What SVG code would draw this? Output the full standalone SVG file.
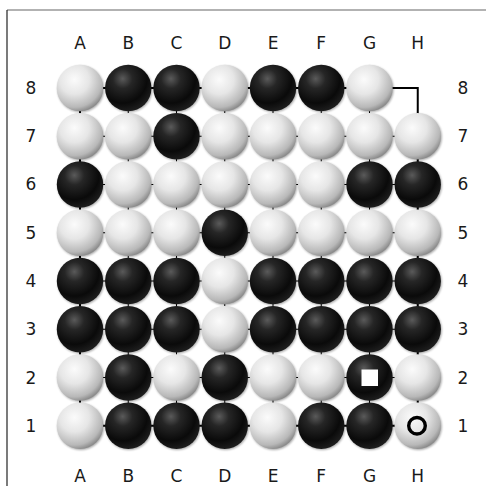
<svg xmlns="http://www.w3.org/2000/svg" xmlns:xlink="http://www.w3.org/1999/xlink" width="486" height="486" viewBox="0 0 486 486">
<defs>
<style>
.lbl{font-family:"DejaVu Sans","Liberation Sans",sans-serif;font-size:17px;fill:#1a1a1a;text-anchor:middle}
.grid{stroke:#000;stroke-width:1;fill:none}
.edge{stroke:#000;stroke-width:2;fill:none}
</style>
<radialGradient id="gw" cx="0.38" cy="0.32" r="0.7">
<stop offset="0" stop-color="#fbfbfb"/>
<stop offset="0.45" stop-color="#e6e6e6"/>
<stop offset="0.85" stop-color="#b8b8b8"/>
<stop offset="1" stop-color="#8c8c8c"/>
</radialGradient>
<radialGradient id="gb" cx="0.38" cy="0.3" r="0.7">
<stop offset="0" stop-color="#5a5a5a"/>
<stop offset="0.3" stop-color="#262626"/>
<stop offset="0.75" stop-color="#0a0a0a"/>
<stop offset="1" stop-color="#1c1c1c"/>
</radialGradient>
<filter id="sh" x="-30%" y="-30%" width="160%" height="160%">
<feGaussianBlur stdDeviation="1.2"/>
</filter>
<g id="W">
<circle cx="0.8" cy="1" r="23.3" fill="#000" opacity="0.35" filter="url(#sh)"/>
<circle r="23.2" fill="url(#gw)"/>
</g>
<g id="B">
<circle cx="0.8" cy="1" r="23.3" fill="#000" opacity="0.35" filter="url(#sh)"/>
<circle r="23.2" fill="url(#gb)"/>
</g>
</defs>
<rect width="486" height="486" fill="#fff"/>
<line x1="7" y1="10" x2="486" y2="10" stroke="#666" stroke-width="1.2"/>
<line x1="7" y1="10" x2="7" y2="486" stroke="#222" stroke-width="1.2"/>

<g id="connectors">
<path class="grid" d="M80 136.25H417.75M80 184.5H417.75M80 232.75H417.75M80 281H417.75M80 329.25H417.75M80 377.5H417.75M128.25 88V425.75M176.5 88V425.75M224.75 88V425.75M273 88V425.75M321.25 88V425.75M369.5 88V425.75"/>
<path class="edge" d="M80 88H417.75V425.75H80Z"/>
</g>

<g id="labels">
<text class="lbl" x="80" y="49">A</text><text class="lbl" x="128.25" y="49">B</text><text class="lbl" x="176.5" y="49">C</text><text class="lbl" x="224.75" y="49">D</text><text class="lbl" x="273" y="49">E</text><text class="lbl" x="321.25" y="49">F</text><text class="lbl" x="369.5" y="49">G</text><text class="lbl" x="417.75" y="49">H</text>
<text class="lbl" x="80" y="482">A</text><text class="lbl" x="128.25" y="482">B</text><text class="lbl" x="176.5" y="482">C</text><text class="lbl" x="224.75" y="482">D</text><text class="lbl" x="273" y="482">E</text><text class="lbl" x="321.25" y="482">F</text><text class="lbl" x="369.5" y="482">G</text><text class="lbl" x="417.75" y="482">H</text>
<text class="lbl" x="31" y="94">8</text><text class="lbl" x="31" y="142">7</text><text class="lbl" x="31" y="190">6</text><text class="lbl" x="31" y="238.5">5</text><text class="lbl" x="31" y="287">4</text><text class="lbl" x="31" y="335">3</text><text class="lbl" x="31" y="383.5">2</text><text class="lbl" x="31" y="431.5">1</text>
<text class="lbl" x="463" y="94">8</text><text class="lbl" x="463" y="142">7</text><text class="lbl" x="463" y="190">6</text><text class="lbl" x="463" y="238.5">5</text><text class="lbl" x="463" y="287">4</text><text class="lbl" x="463" y="335">3</text><text class="lbl" x="463" y="383.5">2</text><text class="lbl" x="463" y="431.5">1</text>
</g>

<g id="row8">
<use href="#W" x="80" y="88"/><use href="#B" x="128.25" y="88"/><use href="#B" x="176.5" y="88"/><use href="#W" x="224.75" y="88"/><use href="#B" x="273" y="88"/><use href="#B" x="321.25" y="88"/><use href="#W" x="369.5" y="88"/>
</g>
<g id="row7">
<use href="#W" x="80" y="136.25"/><use href="#W" x="128.25" y="136.25"/><use href="#B" x="176.5" y="136.25"/><use href="#W" x="224.75" y="136.25"/><use href="#W" x="273" y="136.25"/><use href="#W" x="321.25" y="136.25"/><use href="#W" x="369.5" y="136.25"/><use href="#W" x="417.75" y="136.25"/>
</g>
<g id="row6">
<use href="#B" x="80" y="184.5"/><use href="#W" x="128.25" y="184.5"/><use href="#W" x="176.5" y="184.5"/><use href="#W" x="224.75" y="184.5"/><use href="#W" x="273" y="184.5"/><use href="#W" x="321.25" y="184.5"/><use href="#B" x="369.5" y="184.5"/><use href="#B" x="417.75" y="184.5"/>
</g>
<g id="row5">
<use href="#W" x="80" y="232.75"/><use href="#W" x="128.25" y="232.75"/><use href="#W" x="176.5" y="232.75"/><use href="#B" x="224.75" y="232.75"/><use href="#W" x="273" y="232.75"/><use href="#W" x="321.25" y="232.75"/><use href="#W" x="369.5" y="232.75"/><use href="#W" x="417.75" y="232.75"/>
</g>
<g id="row4">
<use href="#B" x="80" y="281"/><use href="#B" x="128.25" y="281"/><use href="#B" x="176.5" y="281"/><use href="#W" x="224.75" y="281"/><use href="#B" x="273" y="281"/><use href="#B" x="321.25" y="281"/><use href="#B" x="369.5" y="281"/><use href="#B" x="417.75" y="281"/>
</g>
<g id="row3">
<use href="#B" x="80" y="329.25"/><use href="#B" x="128.25" y="329.25"/><use href="#B" x="176.5" y="329.25"/><use href="#W" x="224.75" y="329.25"/><use href="#B" x="273" y="329.25"/><use href="#B" x="321.25" y="329.25"/><use href="#B" x="369.5" y="329.25"/><use href="#B" x="417.75" y="329.25"/>
</g>
<g id="row2">
<use href="#W" x="80" y="377.5"/><use href="#B" x="128.25" y="377.5"/><use href="#W" x="176.5" y="377.5"/><use href="#B" x="224.75" y="377.5"/><use href="#W" x="273" y="377.5"/><use href="#W" x="321.25" y="377.5"/><use href="#B" x="369.5" y="377.5"/><use href="#W" x="417.75" y="377.5"/>
</g>
<g id="row1">
<use href="#W" x="80" y="425.75"/><use href="#B" x="128.25" y="425.75"/><use href="#B" x="176.5" y="425.75"/><use href="#B" x="224.75" y="425.75"/><use href="#W" x="273" y="425.75"/><use href="#B" x="321.25" y="425.75"/><use href="#B" x="369.5" y="425.75"/><use href="#W" x="417.75" y="425.75"/>
</g>
<g id="marks">
<rect x="361.5" y="369.5" width="16.5" height="16.5" fill="#fff"/>
<circle cx="417" cy="425.75" r="8.3" fill="none" stroke="#000" stroke-width="3.4"/>
</g>
</svg>
